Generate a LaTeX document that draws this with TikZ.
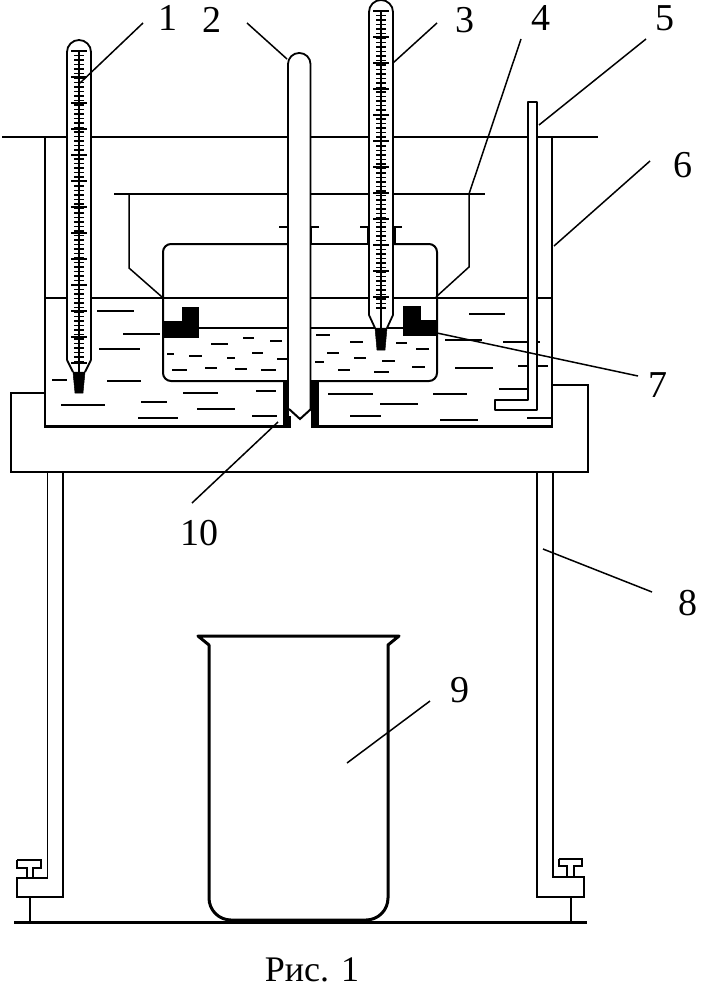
\documentclass[tikz,border=0pt]{standalone}
\usepackage{fontspec}
\setmainfont{Liberation Serif}
\tikzset{
  wall/.style={line width =3pt},
  thinline/.style={line width =1.5pt},
  leader/.style={line width =1.5pt},
  glass/.style={line width =1.8pt,fill=white},
  blackpart/.style={fill=black,draw=black,line width =0.5pt},
  num/.style={font=\fontsize{38}{38}\selectfont,inner sep=0pt},
}
\begin{document}
\begin{tikzpicture}[x=1pt,y=-1pt]
    \useasboundingbox (0,0) rectangle (713,993);
    % table and stands
    \draw [thinline] (45,393) -- (11,393) -- (11,472) -- (588,472) -- (588,385) -- (552,385);
    \draw [thinline] (47.5,472) -- (47.5,878) -- (17,878) -- (17,897) -- (63,897) -- (63,472);
    \draw [thinline] (537,472) -- (537,897) -- (584,897) -- (584,877) -- (553,877) -- (553,472);
    \draw [thinline] (17,860) -- (41,860) -- (41,868) -- (33,868) -- (33,878);
    \draw [thinline] (17,860) -- (17,868) -- (27,868) -- (27,878);
    \draw [thinline] (559,859) -- (582,859) -- (582,866) -- (574,866) -- (574,877);
    \draw [thinline] (559,859) -- (559,866) -- (567,866) -- (567,877);
    \draw [line width =2.2pt] (30,897) -- (30,922);
    \draw [line width =2.2pt] (571,897) -- (571,922);
    \draw [line width =3pt] (14,922) -- (587,922);
    % beaker
    \draw [wall,line join=round] (198,636) -- (399,636) -- (388,645) [rounded corners=22pt] -- (388,920) -- (209,920) [sharp corners] -- (209,645) -- cycle;
    % bath
    \draw [thinline] (2,137) -- (598,137);
    \draw [line width =2pt] (45,137) -- (45,426);
    \draw [line width =2.4pt] (552,137) -- (552,426);
    \draw [wall] (44,426) -- (283,426);
    \draw [wall] (318,426) -- (553,426);
    \draw [thinline] (45,298) -- (552,298);
    % cup with its wires
    \draw [thinline] (114,194) -- (485,194);
    \draw [thinline] (129,194) -- (129,268) -- (162,297);
    \draw [thinline] (469,194) -- (469,267) -- (436,297);
    \draw [line width =2pt,rounded corners=8pt] (287,244) -- (163,244) -- (163,381) -- (437,381) -- (437,244) -- (369,244);
    \draw [line width =2pt] (310,244) -- (369,244);
    \draw [thinline] (163,328) -- (437,328);
    \draw [line width =2.2pt] (279,227) -- (288,227) -- (288,244);
    \draw [line width =2.2pt] (319,227) -- (311,227) -- (311,244);
    \draw [line width =2.2pt] (360,227) -- (368,227) -- (368,244);
    \draw [line width =2.2pt] (402,227) -- (395,227) -- (395,244);
    \fill [blackpart] (163,321) -- (182,321) -- (182,307) -- (198,307) -- (198,337) -- (163,337) -- cycle;
    \fill [blackpart] (403,306) -- (420,306) -- (420,320) -- (437,320) -- (437,335) -- (403,335) -- cycle;
    % liquid
    \foreach \xa/\xb/\yy in {97/134/311,123/160/334,99/140/349,52/67/380,107/141/381,183/218/393,
      256/276/391,61/105/405,141/167/402,197/235/409,138/178/418,252/277/416,
      211/228/344,243/254/338,270/282/341,167/174/354,189/202/356,227/235/358,252/263/353,277/287/359,
      172/187/370,205/217/368,235/247/369,261/276/370,316/330/335,350/363/342,327/339/353,354/366/358,
      315/324/362,338/350/370,328/373/394,350/381/416,396/407/343,416/429/349,382/395/361,412/425/367,
      374/389/372,469/505/314,445/482/340,503/540/342,455/493/368,518/548/366,499/527/389,433/467/394,
      380/418/404,440/478/420,527/552/418}
      \draw [thinline] (\xa,\yy) -- (\xb,\yy);
    % glass parts
    \draw [glass,line join=round] (528,102) -- (537,102) -- (537,410) -- (495,410) -- (495,400) -- (528,400) -- cycle;
    \fill [blackpart] (283,382) -- (290,382) -- (290,427) -- (283,427) -- cycle;
    \fill [blackpart] (311,382) -- (318,382) -- (318,427) -- (311,427) -- cycle;
    \fill [white] (289,300) rectangle (310,416);
    \draw [glass,rounded corners=11pt] (288,410) -- (288,53) -- (310.5,53) -- (310.5,410);
    \draw [line width =2pt] (289,409) -- (300,419) -- (311,409);
    \foreach \xc/\ytop/\yneck/\ytap/\ytip/\ylast in {79/40/360/372/393/365,381/0/315/328/350/310}{
      \draw [glass,rounded corners=12pt] (\xc-12,\yneck) -- (\xc-12,\ytop) -- (\xc+12,\ytop) -- (\xc+12,\yneck);
      \fill [white] (\xc-12,\yneck) -- (\xc-6,\ytap) -- (\xc+6,\ytap) -- (\xc+12,\yneck) -- cycle;
      \draw [line width =1.8pt] (\xc-12,\yneck) -- (\xc-6,\ytap);
      \draw [line width =1.8pt] (\xc+12,\yneck) -- (\xc+6,\ytap);
      \fill [blackpart] (\xc-6,\ytap) -- (\xc+6,\ytap) -- (\xc+4,\ytip) -- (\xc-4,\ytip) -- cycle;
      \pgfmathsetmacro{\yfirst}{\ytop+11}
      \pgfmathsetmacro{\ysecond}{\ytop+15.5}
      \pgfmathsetmacro{\ybig}{\ytop+37}
      \draw [line width =1.3pt] (\xc,\yfirst) -- (\xc,\ytap);
      \foreach \yt in {\yfirst,\ysecond,...,\ylast}
        \draw [line width =1.4pt] (\xc-5,\yt) -- (\xc+5,\yt);
      \foreach \yt in {\yfirst,\ybig,...,\ylast}
        \draw [line width =1.4pt] (\xc-8,\yt) -- (\xc+8,\yt);
    }
    % numbers
    \node [num] (num1) at (168,18) {1};
    \node [num] (num2) at (212,20) {2};
    \node [num] (num3) at (465,20) {3};
    \node [num] (num4) at (541,18) {4};
    \node [num] (num5) at (665,18) {5};
    \node [num] (num6) at (683,165) {6};
    \node [num] (num7) at (658,385) {7};
    \node [num] (num8) at (688,603) {8};
    \node [num] (num9) at (460,690) {9};
    \node [num] (num10) at (199,533) {10};
    \node [num,font=\fontsize{36}{36}\selectfont] (caption) at (312,970) {Рис. 1};
    % leaders
    \foreach \lead/\xa/\ya/\xb/\yb in {1/143/23/80/83,2/247/23/287/59,3/437/23/393/63,4/521/39/469/194,
      5/646/39/539/125,6/650/161/554/246,7/638/376/437/333,8/652/592/543/549,9/430/701/347/763,10/192/503/278/422}{
      \coordinate (from\lead) at (\xa,\ya);
      \coordinate (to\lead) at (\xb,\yb);
      \draw [leader] (from\lead) -- (to\lead);
    }
\end{tikzpicture}
\end{document}
